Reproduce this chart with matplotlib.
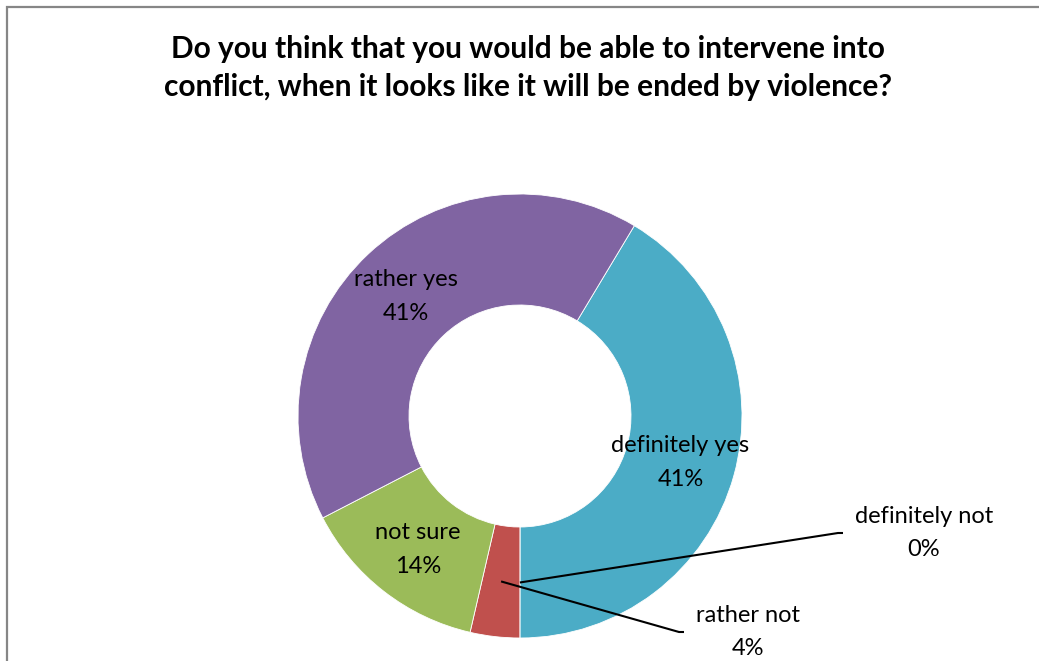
import numpy as np
import matplotlib
matplotlib.use("Agg")
import matplotlib.pyplot as plt
from matplotlib.patches import Rectangle

plt.rcParams['font.family'] = ['Lato', 'DejaVu Sans']

# survey answers (share of respondents, %)
answers = ['definitely yes', 'definitely not', 'rather not', 'not sure', 'rather yes']
shares = [41.4, 0.0, 3.6, 13.8, 41.2]
colors = ['#4BACC6', '#8B8B8B', '#C0504D', '#9BBB59', '#8064A2']
title = 'Do you think that you would be able to intervene into\nconflict, when it looks like it will be ended by violence?'

# labels dragged outside the ring: label box centre in pixels (x, y from top)
outside = {'definitely not': (924, 533), 'rather not': (748, 632)}

W, H = 1039, 661
fig = plt.figure(figsize=(W / 100, H / 100), dpi=100)
fig.patch.set_facecolor('white')
ax = fig.add_axes([0, 0, 1, 1])

cx, cy = 520, H - 416
R = 222
ring = 111
wedges, _ = ax.pie(shares, colors=colors, startangle=59, counterclock=False,
                   center=(cx, cy), radius=R,
                   wedgeprops=dict(width=ring, edgecolor='white', linewidth=0.6))
ax.set_xlim(0, W)
ax.set_ylim(0, H)
ax.set_aspect('auto')
ax.axis('off')

total = sum(shares)
rmid = R - ring / 2
lab_size = 17
for w, name, val in zip(wedges, answers, shares):
    mid = np.deg2rad((w.theta1 + w.theta2) / 2)
    px = cx + rmid * np.cos(mid)
    py = cy + rmid * np.sin(mid)
    txt = f"{name}\n{val / total * 100:.0f}%"
    if name in outside:
        lx, ly = outside[name]
        ly = H - ly
        # leader line ends in a short horizontal tick next to the label
        tw = 72 if name == 'definitely not' else 55
        ex = lx - tw - 9
        ax.plot([px, ex - 5, ex], [py, ly, ly], color='black', lw=1.5,
                solid_capstyle='butt', zorder=3)
        ax.text(lx, ly, txt, ha='center', va='center', fontsize=lab_size,
                linespacing=1.72, multialignment='center')
    else:
        ax.text(px, py - 2, txt, ha='center', va='center', fontsize=lab_size,
                linespacing=1.72, multialignment='center')

fig.text(528 / W, 1 - 68 / H, title, ha='center', va='center', fontsize=21.5,
         fontweight='bold', linespacing=1.45)

# chart area frame (runs off the right and bottom edges)
fig.patches.append(Rectangle((7 / W, -0.1), 1.2, (H - 7) / H + 0.1,
                             transform=fig.transFigure, fill=False,
                             edgecolor='#868686', linewidth=1.6))

fig.savefig('out.png', dpi=100)
